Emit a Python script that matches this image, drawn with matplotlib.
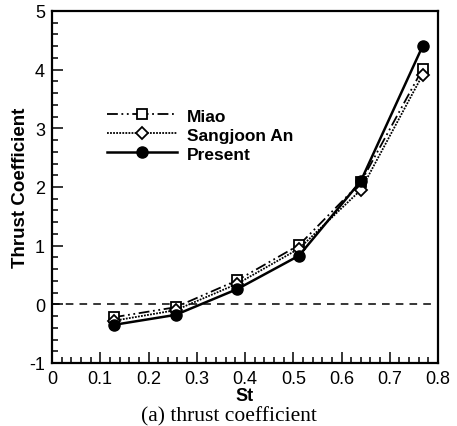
import matplotlib
matplotlib.use("Agg")
import matplotlib.pyplot as plt
from matplotlib.ticker import MultipleLocator

st = [0.128, 0.256, 0.384, 0.512, 0.640, 0.768]
miao = [-0.22, -0.05, 0.41, 1.01, 2.08, 4.01]
sangjoon = [-0.28, -0.10, 0.35, 0.95, 1.95, 3.91]
present = [-0.35, -0.18, 0.26, 0.83, 2.10, 4.40]
labels = ["Miao", "Sangjoon An", "Present"]

plt.rcParams['font.family'] = ['Liberation Sans', 'DejaVu Sans']
plt.rcParams['axes.unicode_minus'] = False
fig = plt.figure(figsize=(4.57, 4.27), dpi=100)
W, H = 457, 427
ax = fig.add_axes([52 / W, 1 - 364 / H, (438 - 52) / W, (364 - 12) / H])

ax.axhline(0, color='black', ls=(0, (5, 4)), lw=1.1, zorder=1)
ax.plot(st, miao, color='black', lw=1.3, ls=(0, (6, 2, 1, 2, 1, 2)),
        marker='s', ms=7.5, mfc='white', mec='black', mew=1.3, label=labels[0], zorder=3)
ax.plot(st, sangjoon, color='black', lw=1.3, ls=(0, (1, 0.7)),
        marker='D', ms=6.5, mfc='white', mec='black', mew=1.3, label=labels[1], zorder=3)
ax.plot(st, present, color='black', lw=1.8, ls='-',
        marker='o', ms=8, mfc='black', mec='black', label=labels[2], zorder=4)

ax.set_xlim(0, 0.8)
ax.set_ylim(-1, 5)
ax.xaxis.set_major_locator(MultipleLocator(0.1))
ax.xaxis.set_minor_locator(MultipleLocator(0.02))
ax.yaxis.set_major_locator(MultipleLocator(1))
ax.yaxis.set_minor_locator(MultipleLocator(0.2))
ax.xaxis.set_major_formatter(plt.FuncFormatter(lambda v, p: '0' if abs(v) < 1e-9 else f'{v:.1f}'))
ax.yaxis.set_major_formatter(plt.FuncFormatter(lambda v, p: f'{v:.0f}'))
ax.tick_params(which='both', direction='in', top=False, right=False, labelsize=13, width=1.1)
ax.tick_params(which='major', length=8, pad=5)
ax.tick_params(which='minor', length=4)
for s in ax.spines.values():
    s.set_linewidth(1.6)

ax.set_xlabel('St', fontsize=13, fontweight='bold', labelpad=0)
ax.set_ylabel('Thrust Coefficient', fontsize=13.5, fontweight='bold', labelpad=0)

ax.legend(loc='upper left', bbox_to_anchor=(0.125, 0.743), frameon=False,
          prop={'weight': 'bold', 'size': 12.5}, handlelength=4.0,
          handletextpad=0.6, labelspacing=0.22, borderaxespad=0)

fig.text(0.5, 1 - 421 / H, '(a) thrust coefficient', ha='center', va='baseline',
         fontsize=15.5, family=['Liberation Serif', 'DejaVu Serif'])

fig.savefig('out.png', dpi=100)
